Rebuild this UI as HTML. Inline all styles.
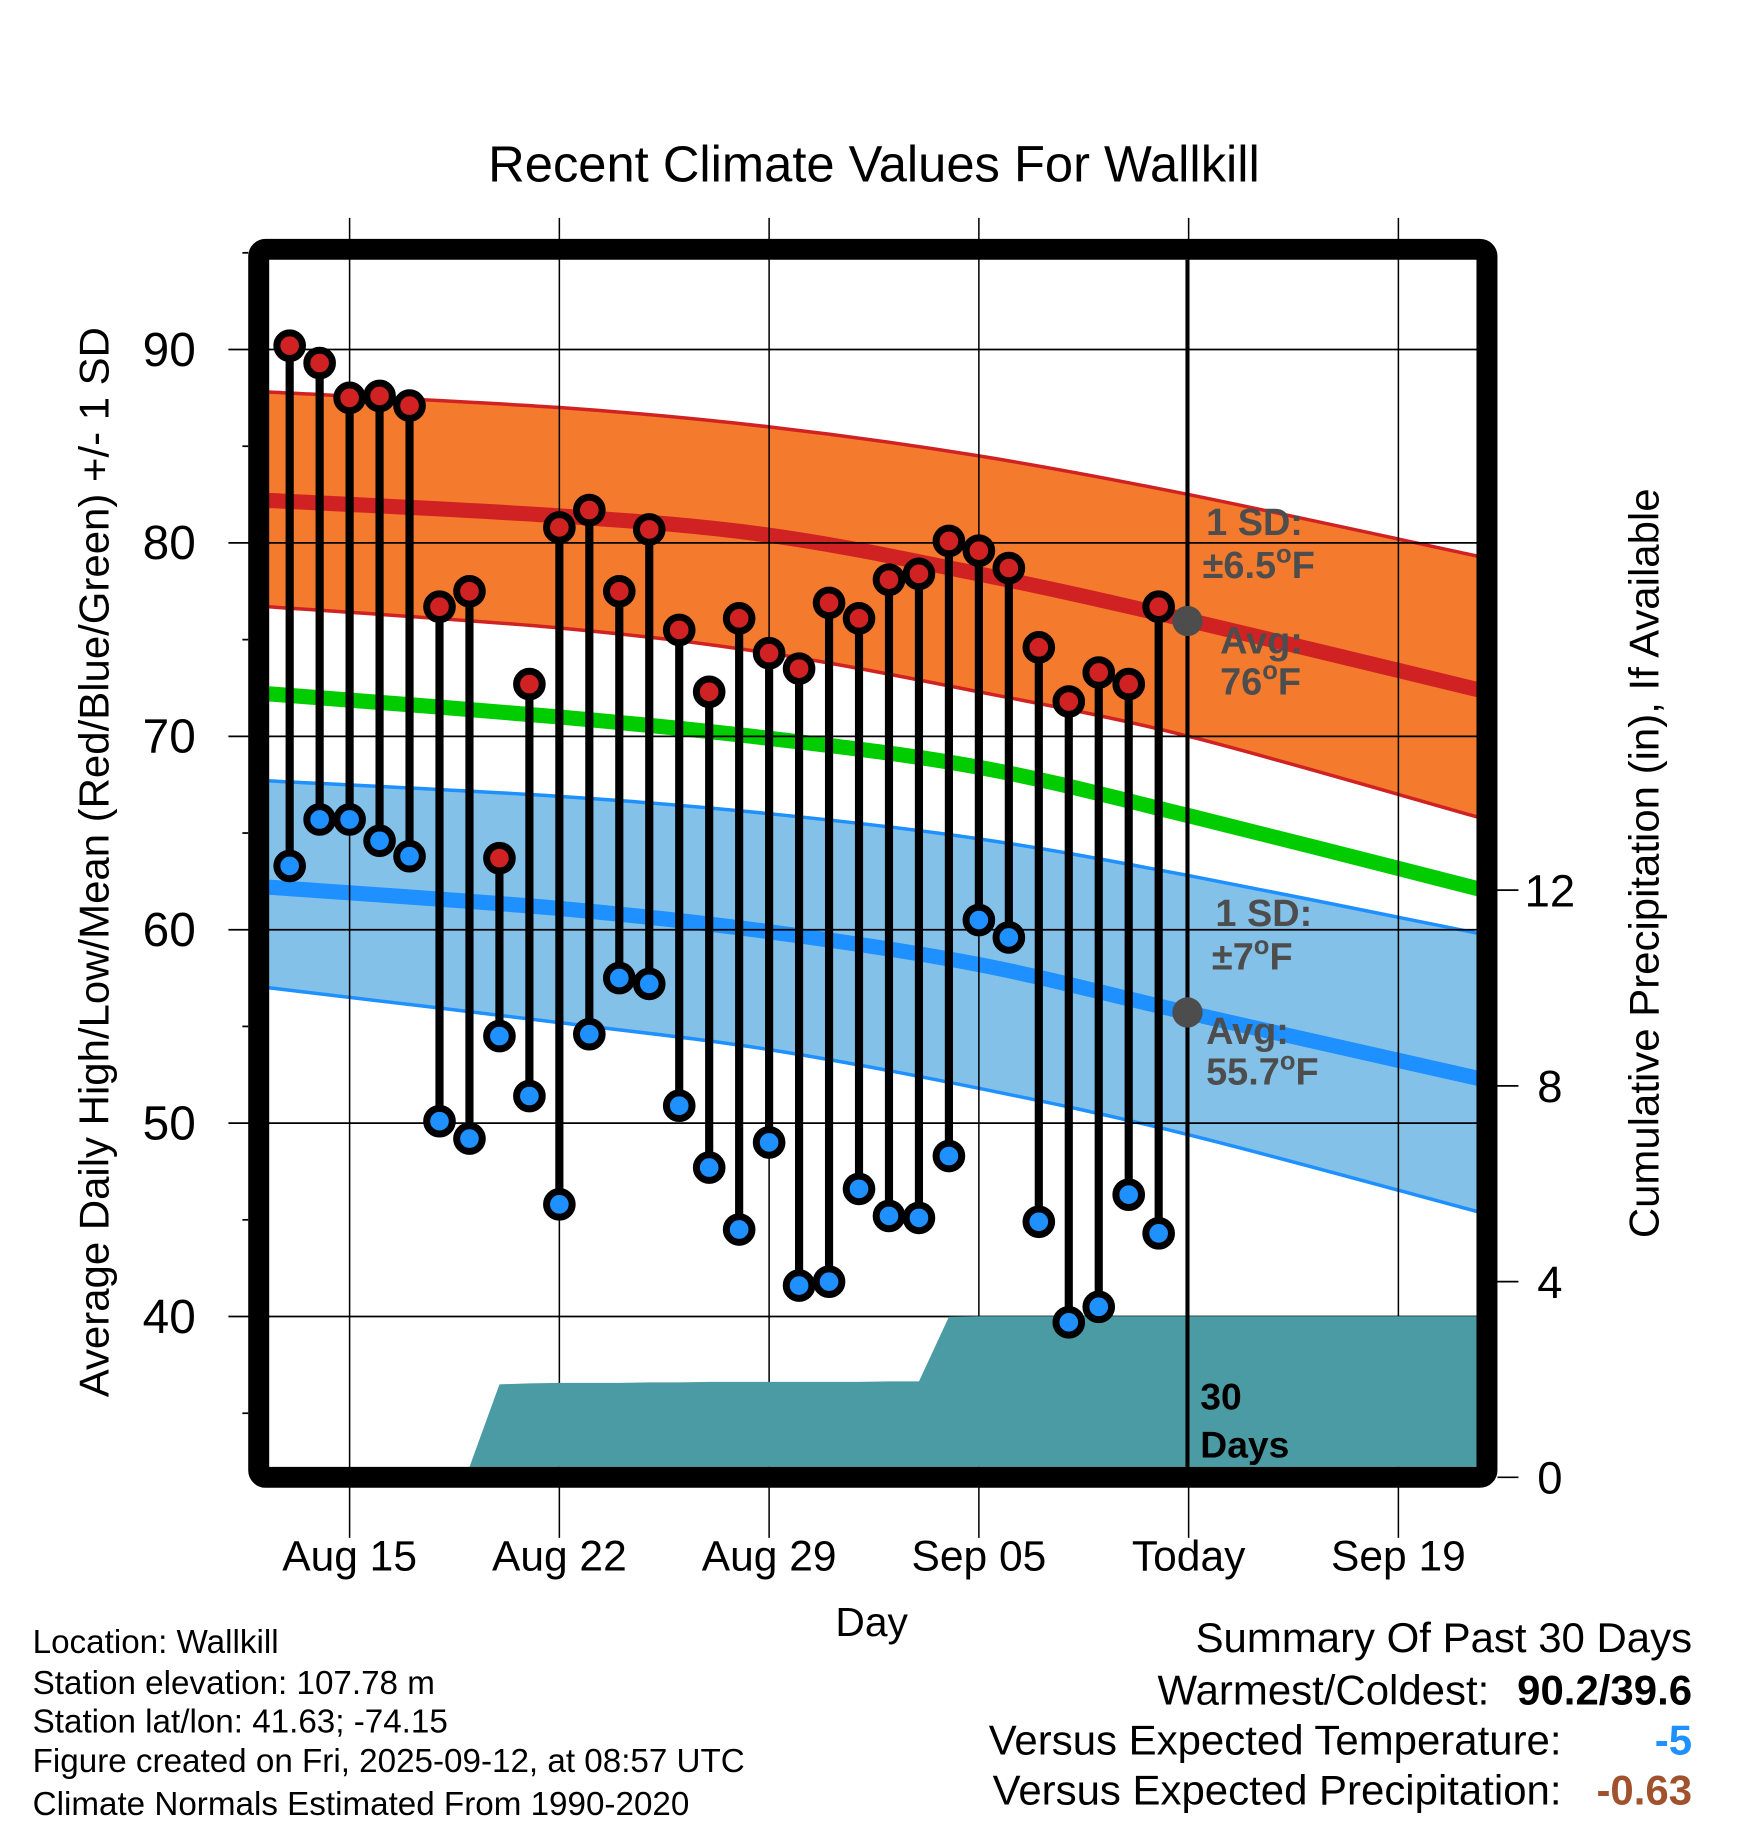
<!DOCTYPE html>
<html><head><meta charset="utf-8"><style>
html,body{margin:0;padding:0;background:#fff;}
svg{display:block;font-family:"Liberation Sans",sans-serif;}
</style></head><body>
<svg id="chart" width="1748" height="1828" viewBox="0 0 1500 1569" preserveAspectRatio="none" xmlns="http://www.w3.org/2000/svg">
<text x="750" y="156" font-size="43.5" text-anchor="middle">Recent Climate Values For Wallkill</text>
<g id="bands"></g>
<g id="grid"></g>
<g id="precip"></g>
<g id="marks"></g>
<rect x="222" y="214" width="1054" height="1054" rx="6" fill="none" stroke="#000" stroke-width="18"/>
<g id="axes"></g>
<line x1="1019" y1="223" x2="1019" y2="1259" stroke="#000" stroke-width="3.5"/>
<text x="1030" y="1210" font-size="32" font-weight="bold">30</text>
<text x="1030" y="1251" font-size="32" font-weight="bold">Days</text>
<g fill="#4d4d4d" font-weight="bold" font-size="32.5">
<text x="1035" y="459">1 SD:</text>
<text x="1032" y="496">±6.5<tspan dy="-13" font-size="22">o</tspan><tspan dy="13">F</tspan></text>
<text x="1047" y="561">Avg:</text>
<text x="1047" y="596">76<tspan dy="-13" font-size="22">o</tspan><tspan dy="13">F</tspan></text>
<text x="1043" y="795">1 SD:</text>
<text x="1040" y="832">±7<tspan dy="-13" font-size="22">o</tspan><tspan dy="13">F</tspan></text>
<text x="1035" y="896">Avg:</text>
<text x="1035" y="931">55.7<tspan dy="-13" font-size="22">o</tspan><tspan dy="13">F</tspan></text>
</g>
<circle cx="1019" cy="533" r="13" fill="#4d4d4d"/>
<circle cx="1019" cy="869" r="13" fill="#4d4d4d"/>
<text transform="translate(93,740) rotate(-90)" font-size="36" text-anchor="middle">Average Daily High/Low/Mean (Red/Blue/Green) +/- 1 SD</text>
<text transform="translate(1423,741) rotate(-90)" font-size="36" text-anchor="middle">Cumulative Precipitation (in), If Available</text>
<text x="748" y="1404" font-size="35" text-anchor="middle">Day</text>
<g font-size="28.5">
<text x="28" y="1419">Location: Wallkill</text>
<text x="28" y="1454">Station elevation: 107.78 m</text>
<text x="28" y="1487">Station lat/lon: 41.63; -74.15</text>
<text x="28" y="1521">Figure created on Fri, 2025-09-12, at 08:57 UTC</text>
<text x="28" y="1558">Climate Normals Estimated From 1990-2020</text>
</g>
<g font-size="36" text-anchor="end">
<text x="1452" y="1418">Summary Of Past 30 Days</text>
<text x="1278" y="1463">Warmest/Coldest:</text>
<text x="1452" y="1463" font-weight="bold">90.2/39.6</text>
<text x="1340" y="1506">Versus Expected Temperature:</text>
<text x="1452" y="1506" font-weight="bold" fill="#1e90ff">-5</text>
<text x="1340" y="1549">Versus Expected Precipitation:</text>
<text x="1452" y="1549" font-weight="bold" fill="#a0522d">-0.63</text>
</g>
</svg>
<script>
// data
const days = [-2,-1,0,1,2,3,4,5,6,7,8,9,10,11,12,13,14,15,16,17,18,19,20,21,22,23,24,25,26,27];
const highs = [90.2,89.3,87.5,87.6,87.1,76.7,77.5,63.7,72.7,80.8,81.7,77.5,80.7,75.5,72.3,76.1,74.3,73.5,76.9,76.1,78.1,78.4,80.1,79.6,78.7,74.6,71.8,73.3,72.7,76.7];
const lows = [63.3,65.7,65.7,64.6,63.8,50.1,49.2,54.5,51.4,45.8,54.6,57.5,57.2,50.9,47.7,44.5,49.0,41.6,41.8,46.6,45.2,45.1,48.3,60.5,59.6,44.9,39.7,40.5,46.3,44.3];
const precip = [0,0,0,0,0,0,0,1.9,1.92,1.93,1.93,1.93,1.94,1.94,1.95,1.95,1.95,1.95,1.95,1.95,1.96,1.96,3.28,3.29,3.29,3.29,3.29,3.29,3.29,3.29];
const normDays = [-2.7,7,14,21,28,37.7];
const highAvg = [82.2,81.4,80.4,78.4,76.0,72.4];
const highUpper = [87.8,87.0,86.0,84.5,82.5,79.3];
const highLower = [76.7,75.6,74.3,72.3,70.0,65.8];
const meanAvg = [72.2,71.0,69.9,68.4,65.9,62.1];
const lowAvg = [62.2,61.1,59.9,58.2,55.7,52.3];
const lowUpper = [67.7,66.9,66.0,64.7,62.8,59.8];
const lowLower = [57.0,55.2,53.8,51.8,49.4,45.4];
const yTicks = [90,80,70,60,50,40];
const y2Ticks = [0,4,8,12];
const xTickDays = [0,7,14,21,28,35];
const xTickLabels = ["Aug 15","Aug 22","Aug 29","Sep 05","Today","Sep 19"];

const NS="http://www.w3.org/2000/svg";
const X0=231,X1=1267.5,Y0=223,Y1=1259;
const xs=d=>300+d*25.714;
const ys=v=>300+(90-v)*16.6;
const yp=p=>1268-p*42;
function mk(parent,tag,attrs){const e=document.createElementNS(NS,tag);for(const k in attrs)e.setAttribute(k,attrs[k]);document.getElementById(parent).appendChild(e);return e;}
function ptsArr(arr){return normDays.map((d,i)=>[xs(d),ys(arr[i])]);}
function smooth(p){ // catmull-rom to bezier
  let s="M"+p[0][0].toFixed(1)+","+p[0][1].toFixed(1);
  for(let i=0;i<p.length-1;i++){
    const p0=p[Math.max(0,i-1)],p1=p[i],p2=p[i+1],p3=p[Math.min(p.length-1,i+2)];
    const c1=[p1[0]+(p2[0]-p0[0])/6,p1[1]+(p2[1]-p0[1])/6];
    const c2=[p2[0]-(p3[0]-p1[0])/6,p2[1]-(p3[1]-p1[1])/6];
    s+=" C"+c1.map(v=>v.toFixed(1))+" "+c2.map(v=>v.toFixed(1))+" "+p2.map(v=>v.toFixed(1));
  }
  return s;
}
function bandPath(up,lo){
  const u=ptsArr(up),l=ptsArr(lo).reverse();
  return smooth(u)+" L"+l[0][0].toFixed(1)+","+l[0][1].toFixed(1)+" "+smooth(l).slice(1).replace(/^[^C]*/,'')+" Z";
}

// bands
let e=mk('bands','path',{d:bandPath(highUpper,highLower),fill:'#f47a2e'});


e=mk('bands','path',{d:smooth(ptsArr(highUpper)),fill:'none',stroke:'#d02222','stroke-width':3});


e=mk('bands','path',{d:smooth(ptsArr(highLower)),fill:'none',stroke:'#d02222','stroke-width':3});


e=mk('bands','path',{d:bandPath(lowUpper,lowLower),fill:'#84c1e8'});


e=mk('bands','path',{d:smooth(ptsArr(lowUpper)),fill:'none',stroke:'#1e90ff','stroke-width':3});


e=mk('bands','path',{d:smooth(ptsArr(lowLower)),fill:'none',stroke:'#1e90ff','stroke-width':3});


e=mk('bands','path',{d:smooth(ptsArr(highAvg)),fill:'none',stroke:'#d02222','stroke-width':13});


e=mk('bands','path',{d:smooth(ptsArr(meanAvg)),fill:'none',stroke:'#00cc00','stroke-width':13});


e=mk('bands','path',{d:smooth(ptsArr(lowAvg)),fill:'none',stroke:'#1e90ff','stroke-width':13});



// grid
yTicks.forEach(v=>{
  const g=mk('grid','line',{x1:196,x2:X1,y1:ys(v),y2:ys(v),stroke:'#000','stroke-width':1.5});
  
  
  const t=mk('axes','text',{x:168,y:ys(v)+14,'font-size':41,'text-anchor':'end'});
  t.textContent=v;
  
  
});
[95,85,75,65,55,45,35].forEach(v=>{
  const g=mk('grid','line',{x1:208,x2:213,y1:ys(v),y2:ys(v),stroke:'#000','stroke-width':1.5});
  
  
});
xTickDays.forEach((d,i)=>{
  const g=mk('grid','line',{x1:xs(d),x2:xs(d),y1:187,y2:1320,stroke:'#000','stroke-width':1.3});
  
  
  const t=mk('axes','text',{x:xs(d),y:1348,'font-size':36.5,'text-anchor':'middle'});
  t.textContent=xTickLabels[i];
  
  
});
y2Ticks.forEach(p=>{
  const g=mk('axes','line',{x1:1285,x2:1303,y1:yp(p),y2:yp(p),stroke:'#000','stroke-width':1.5});
  
  
  const t=mk('axes','text',{x:1330,y:yp(p)+14,'font-size':39,'text-anchor':'middle'});
  t.textContent=p;
  
  
});

// precip area
let pp=[X0+","+Y1];
days.forEach((d,i)=>{pp.push(xs(d).toFixed(1)+","+Math.min(Y1,yp(precip[i])).toFixed(1));});
pp.push(X1+","+yp(precip[precip.length-1]).toFixed(1));
pp.push(X1+","+Y1);
e=mk('precip','polygon',{points:pp.join(' '),fill:'#4a9ba4'});



// stems & markers
days.forEach((d,i)=>{
  const x=xs(d);
  const s=mk('marks','line',{x1:x,x2:x,y1:ys(highs[i]),y2:ys(lows[i]),stroke:'#000','stroke-width':7});
  
  
});
days.forEach((d,i)=>{
  const x=xs(d);
  const h=mk('marks','circle',{cx:x,cy:ys(highs[i]),r:11,fill:'#d02222',stroke:'#000','stroke-width':6});
  
  
  const l=mk('marks','circle',{cx:x,cy:ys(lows[i]),r:11,fill:'#1e90ff',stroke:'#000','stroke-width':6});
  
  
});
</script>
</body></html>
